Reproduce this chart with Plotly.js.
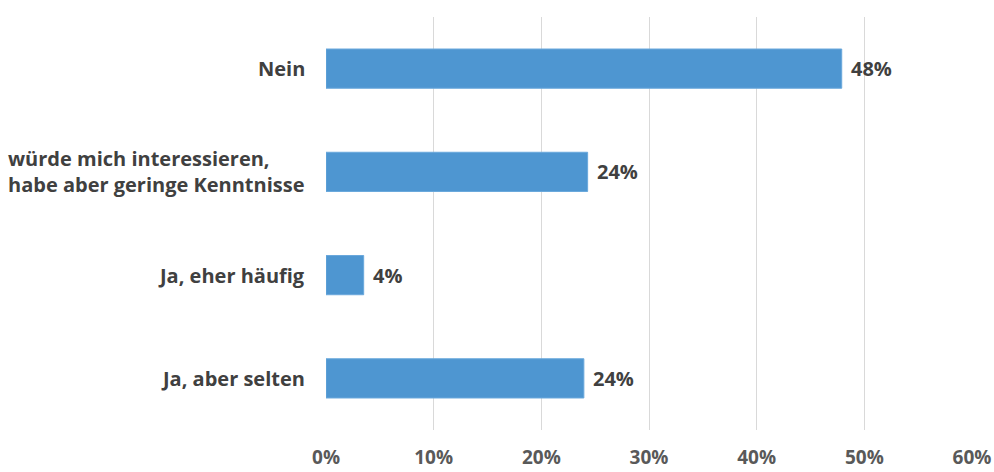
<!DOCTYPE html>
<html>
<head>
<meta charset="utf-8">
<script src="https://cdn.plot.ly/plotly-3.0.1.min.js"></script>
<style>html,body{margin:0;padding:0;background:#fff}#chart{width:994px;height:472px}</style>
</head>
<body>
<div id="chart"></div>
<script>
const categories = ["Ja, aber selten", "Ja, eher häufig", "würde mich interessieren,<br>habe aber geringe Kenntnisse", "Nein"];
const values = [23.95, 3.5, 24.3, 47.9];
const valueLabels = ["24%", "4%", "24%", "48%"];
const tickValues = [0, 10, 20, 30, 40, 50, 60];
const tickLabels = ["0%", "10%", "20%", "30%", "40%", "50%", "60%"];

const font = "'Open Sans', 'Liberation Sans', sans-serif";

const annotations = [];
categories.forEach((c, i) => {
  annotations.push({
    x: 0, y: c, xref: "x", yref: "y",
    text: c, showarrow: false,
    xanchor: "right", yanchor: "middle", align: "left",
    xshift: -19,
    font: {family: font, size: 20, color: "#404040", weight: 700}
  });
  annotations.push({
    x: values[i], y: c, xref: "x", yref: "y",
    text: valueLabels[i], showarrow: false,
    xanchor: "left", yanchor: "middle",
    xshift: 7,
    font: {family: font, size: 20, color: "#404040", weight: 700}
  });
});

Plotly.newPlot("chart", [{
  type: "bar",
  orientation: "h",
  y: categories,
  x: values,
  marker: {color: "#4e96d1", line: {color: "#6aa8dc", width: 1}},
  width: 0.38,
  hoverinfo: "none"
}], {
  width: 994, height: 472,
  margin: {l: 326, r: 22, t: 17, b: 42},
  paper_bgcolor: "#ffffff",
  plot_bgcolor: "#ffffff",
  showlegend: false,
  font: {family: font, color: "#595959"},
  annotations: annotations,
  xaxis: {
    range: [0, 60],
    tickvals: tickValues,
    ticktext: tickLabels,
    showgrid: true,
    gridcolor: "#d9d9d9",
    gridwidth: 1,
    zeroline: false,
    showline: false,
    ticks: "",
    ticklabelstandoff: 14,
    tickfont: {family: font, size: 19, color: "#595959", weight: 700}
  },
  yaxis: {
    type: "category",
    categoryorder: "array",
    categoryarray: categories,
    showgrid: false,
    zeroline: false,
    showline: false,
    ticks: "",
    showticklabels: false
  }
}, {staticPlot: true});
</script>
</body>
</html>
